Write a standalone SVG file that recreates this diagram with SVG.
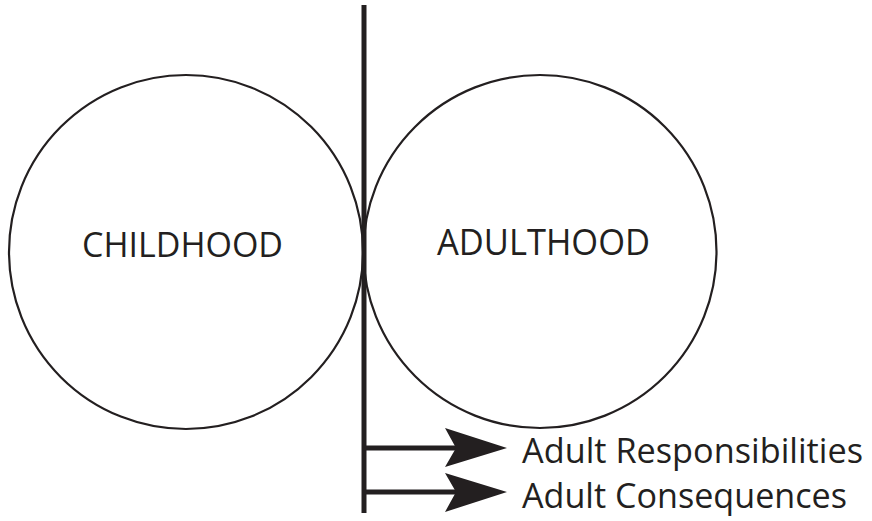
<svg xmlns="http://www.w3.org/2000/svg" width="872" height="521" viewBox="0 0 872 521">
<style>
.c{fill:none;stroke:#231f20;stroke-width:2.2}
.t{font-family:"Open Sans","Noto Sans",sans-serif;fill:#231f20}
.l{stroke:#231f20;stroke-width:5;fill:none}
.h{fill:#231f20}
</style>
<rect width="872" height="521" fill="#fff"/>
<g id="childhood">
<circle class="c" cx="186" cy="252" r="177"/>
<text class="t" x="82" y="257" font-size="34" textLength="201" lengthAdjust="spacingAndGlyphs">CHILDHOOD</text>
</g>
<g id="adulthood">
<circle class="c" cx="540" cy="251.5" r="176.5"/>
<text class="t" x="437" y="255" font-size="36" textLength="213" lengthAdjust="spacingAndGlyphs">ADULTHOOD</text>
</g>
<g id="responsibilities">
<text class="t" x="522" y="463" font-size="35" textLength="341" lengthAdjust="spacingAndGlyphs">Adult Responsibilities</text>
</g>
<g id="consequences">
<text class="t" x="522" y="508" font-size="35" textLength="325" lengthAdjust="spacingAndGlyphs">Adult Consequences</text>
</g>
<g id="connectors">
<line class="l" x1="364" y1="5" x2="364" y2="513"/>
<line class="l" x1="364" y1="448" x2="460" y2="448"/>
<polygon class="h" points="507,448 445,428 456,448 445,467"/>
<line class="l" x1="364" y1="492" x2="460" y2="492"/>
<polygon class="h" points="507,492 445,473 456,492 445,512"/>
</g>
</svg>
